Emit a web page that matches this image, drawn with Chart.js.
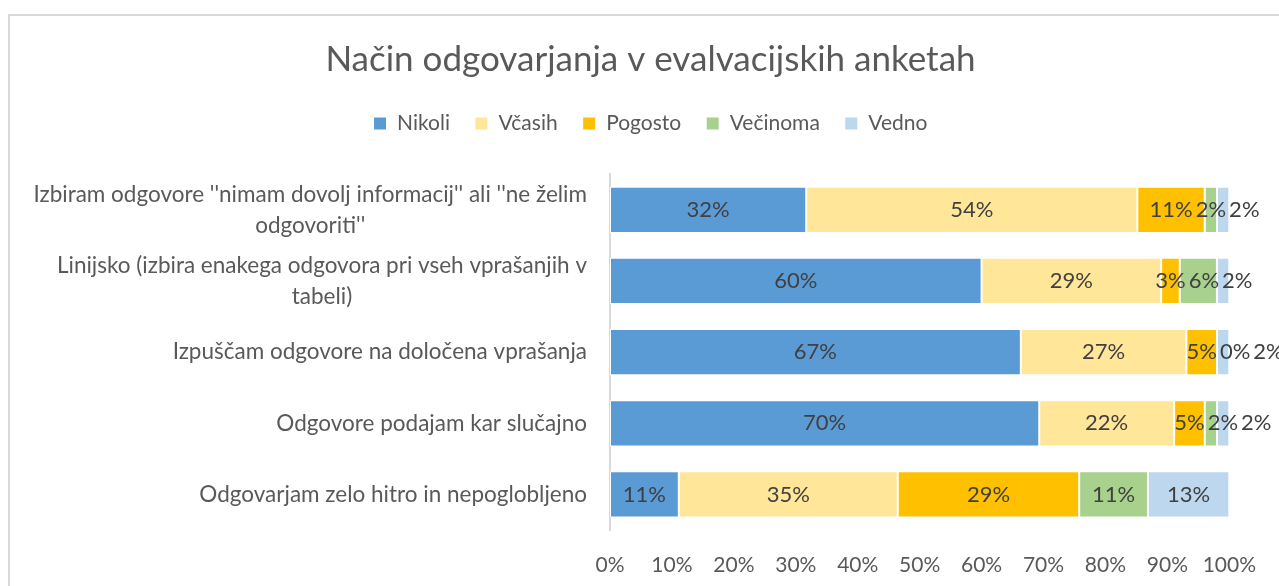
<!DOCTYPE html>
<html>
<head>
<meta charset="utf-8">
<script src="https://cdn.jsdelivr.net/npm/chart.js@4.4.1/dist/chart.umd.min.js"></script>
<style>
  html, body { margin: 0; padding: 0; background: #fff; }
  #wrap { position: relative; width: 1279px; height: 586px; overflow: hidden; }
  #frame { position: absolute; left: 8px; top: 14px; width: 1400px; height: 700px;
           border-left: 2px solid #d9d9d9; border-top: 2px solid #d9d9d9; }
  #chart { position: absolute; left: 0; top: 0; }
</style>
</head>
<body>
<div id="wrap">
  <div id="frame"></div>
  <canvas id="chart" width="1279" height="586"></canvas>
</div>
<script>
const FONT = 'Lato';
const TEXT = '#595959';

const chartTitle = 'Način odgovarjanja v evalvacijskih anketah';

// categories (wrapped like the original axis labels)
const categories = [
  ["Izbiram odgovore ''nimam dovolj informacij'' ali ''ne želim", "odgovoriti''"],
  ['Linijsko (izbira enakega odgovora pri vseh vprašanjih v', 'tabeli)'],
  ['Izpuščam odgovore na določena vprašanja'],
  ['Odgovore podajam kar slučajno'],
  ['Odgovarjam zelo hitro in nepoglobljeno'],
];

const seriesNames = ['Nikoli', 'Včasih', 'Pogosto', 'Večinoma', 'Vedno'];
const seriesColors = ['#5B9BD5', '#FFE699', '#FFC000', '#A9D18E', '#BDD7EE'];

// percentages as labelled in the chart
const nikoli   = [32, 60, 67, 70, 11];
const vcasih   = [54, 29, 27, 22, 35];
const pogosto  = [11, 3, 5, 5, 29];
const vecinoma = [2, 6, 0, 2, 11];
const vedno    = [2, 2, 2, 2, 13];

const xTicks = [0, 10, 20, 30, 40, 50, 60, 70, 80, 90, 100];

const series = [nikoli, vcasih, pogosto, vecinoma, vedno];

// 100% stacked: each row is scaled to its own total
const rowTotals = categories.map((_, i) => series.reduce((s, arr) => s + arr[i], 0));

const datasets = series.map((arr, k) => ({
  label: seriesNames[k],
  data: arr.map((v, i) => v / rowTotals[i] * 100),
  raw: arr,
  backgroundColor: seriesColors[k],
  borderColor: '#ffffff',
  borderWidth: 1,
  borderSkipped: false,
  barPercentage: 0.65,
  categoryPercentage: 1.0,
}));

// draws the wrapped category labels: block right aligned, lines centred in the block
const categoryLabels = {
  id: 'categoryLabels',
  afterDraw(chart) {
    const { ctx, scales: { y } } = chart;
    const lineH = 31;
    const right = y.right - 23;
    ctx.save();
    ctx.font = `22.5px ${FONT}`;
    ctx.fillStyle = TEXT;
    ctx.textAlign = 'center';
    ctx.textBaseline = 'middle';
    categories.forEach((lines, i) => {
      const yc = y.getPixelForTick(i);
      const w = Math.max(...lines.map(l => ctx.measureText(l).width));
      lines.forEach((line, j) => {
        ctx.fillText(line, right - w / 2, yc + (j - (lines.length - 1) / 2) * lineH);
      });
    });
    ctx.restore();
  },
};

// value labels centred in each segment, pushed right when they collide
const valueLabels = {
  id: 'valueLabels',
  afterDatasetsDraw(chart) {
    const { ctx } = chart;
    ctx.save();
    ctx.font = `22px ${FONT}`;
    ctx.fillStyle = '#404040';
    ctx.textAlign = 'center';
    ctx.textBaseline = 'middle';
    categories.forEach((_, i) => {
      const items = [];
      chart.data.datasets.forEach((ds, k) => {
        const el = chart.getDatasetMeta(k).data[i];
        const text = ds.raw[i] + '%';
        items.push({ text, x: (el.x + el.base) / 2, y: el.y, w: ctx.measureText(text).width });
      });
      for (let n = 1; n < items.length; n++) {
        const prev = items[n - 1];
        const cur = items[n];
        const minX = prev.x + prev.w / 2 + 3 + cur.w / 2;
        if (cur.x < minX) cur.x = minX;
      }
      items.forEach(it => ctx.fillText(it.text, it.x, it.y));
    });
    ctx.restore();
  },
};

new Chart(document.getElementById('chart'), {
  type: 'bar',
  data: { labels: categories.map(c => c.join(' ')), datasets },
  plugins: [categoryLabels, valueLabels],
  options: {
    responsive: false,
    animation: false,
    indexAxis: 'y',
    layout: { padding: { left: 65, right: 43, top: 0, bottom: 9 } },
    scales: {
      x: {
        stacked: true,
        min: 0,
        max: 100,
        afterBuildTicks: (scale) => { scale.ticks = xTicks.map(v => ({ value: v })); },
        afterFit: (scale) => { scale.height = 47; },
        ticks: {
          color: TEXT,
          font: { family: FONT, size: 21 },
          padding: 23,
          maxRotation: 0,
          callback: (v) => v + '%',
        },
        grid: { display: false, drawTicks: false },
        border: { display: false },
      },
      y: {
        stacked: true,
        ticks: { display: false },
        grid: { display: false, drawTicks: false },
        border: { display: true, color: '#d9d9d9', width: 2 },
        afterFit: (scale) => { scale.width = 545; },
      },
    },
    plugins: {
      title: {
        display: true,
        text: chartTitle,
        color: TEXT,
        font: { family: FONT, size: 35, weight: 'normal' },
        padding: { top: 39, bottom: 7 },
      },
      // empty spacer below the legend
      subtitle: {
        display: true,
        text: '',
        weight: 500,
        font: { size: 1 },
        padding: { top: 29, bottom: 0 },
      },
      legend: {
        position: 'top',
        labels: {
          color: TEXT,
          font: { family: FONT, size: 21 },
          boxWidth: 13,
          boxHeight: 13,
          padding: 25,
        },
      },
      tooltip: { enabled: false },
    },
  },
});
</script>
</body>
</html>
